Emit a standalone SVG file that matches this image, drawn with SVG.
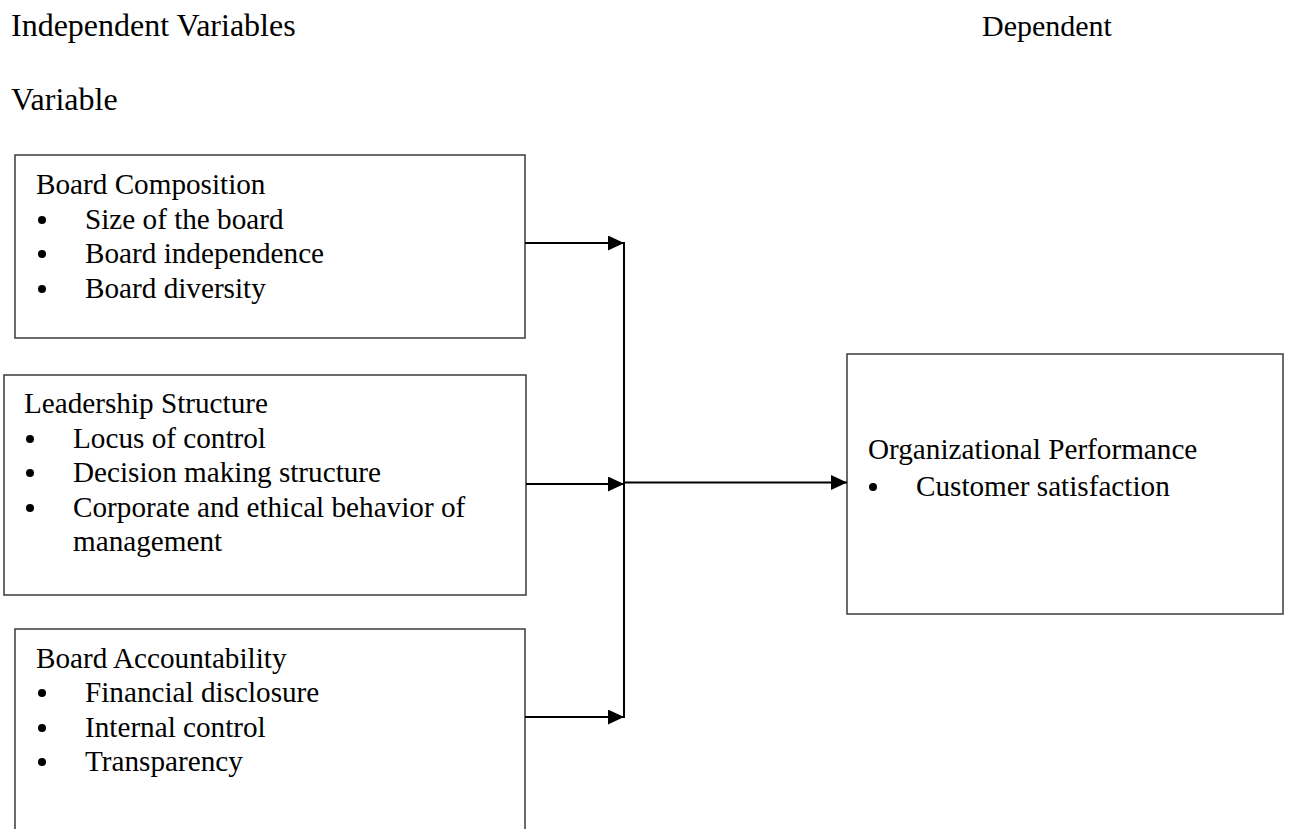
<svg xmlns="http://www.w3.org/2000/svg" width="1289" height="829" viewBox="0 0 1289 829">
<style>
text{font-family:"Liberation Serif","Times New Roman",serif;fill:#000;}
.h{font-size:32px;}
.t{font-size:29.2px;}
.box{fill:#fff;stroke:#3a3a3a;stroke-width:1.5;}
.c{stroke:#000;stroke-width:2;fill:none;}
.dot{fill:#000;}
</style>
<defs>
<marker id="ah" viewBox="0 0 16 15" refX="16" refY="7.5" markerWidth="16" markerHeight="15" markerUnits="userSpaceOnUse" orient="auto">
<path d="M0,0 L16,7.5 L0,15 Z" fill="#000"/>
</marker>
</defs>
<rect width="1289" height="829" fill="#fff"/>
<g id="headers">
<text class="h" x="11" y="36">Independent Variables</text>
<text x="982" y="36" style="font-size:30px">Dependent</text>
<text class="h" x="11" y="110">Variable</text>
</g>
<g id="board-composition">
<rect class="box" x="15" y="155" width="510" height="183"/>
<text class="t" x="36" y="194">Board Composition</text>
<circle class="dot" cx="42" cy="220" r="4"/>
<text class="t" x="85" y="229">Size of the board</text>
<circle class="dot" cx="42" cy="254" r="4"/>
<text class="t" x="85" y="263">Board independence</text>
<circle class="dot" cx="42" cy="289" r="4"/>
<text class="t" x="85" y="298">Board diversity</text>
</g>
<g id="leadership-structure">
<rect class="box" x="4" y="375" width="522" height="220"/>
<text class="t" x="24" y="413">Leadership Structure</text>
<circle class="dot" cx="30" cy="439" r="4"/>
<text class="t" x="73" y="448">Locus of control</text>
<circle class="dot" cx="30" cy="473" r="4"/>
<text class="t" x="73" y="482">Decision making structure</text>
<circle class="dot" cx="30" cy="508" r="4"/>
<text class="t" x="73" y="517">Corporate and ethical behavior of</text>
<text class="t" x="73" y="551">management</text>
</g>
<g id="board-accountability">
<rect class="box" x="15" y="629" width="510" height="220"/>
<text class="t" x="36" y="668">Board Accountability</text>
<circle class="dot" cx="42" cy="693" r="4"/>
<text class="t" x="85" y="702">Financial disclosure</text>
<circle class="dot" cx="42" cy="728" r="4"/>
<text class="t" x="85" y="737">Internal control</text>
<circle class="dot" cx="42" cy="762" r="4"/>
<text class="t" x="85" y="771">Transparency</text>
</g>
<g id="organizational-performance">
<rect class="box" x="847" y="354" width="436" height="260"/>
<text class="t" x="868" y="459">Organizational Performance</text>
<circle class="dot" cx="873" cy="487" r="4"/>
<text class="t" x="916" y="496">Customer satisfaction</text>
</g>
<g id="connectors">
<line class="c" x1="525" y1="243" x2="624" y2="243" marker-end="url(#ah)"/>
<line class="c" x1="526" y1="484" x2="624" y2="484" marker-end="url(#ah)"/>
<line class="c" x1="525" y1="717" x2="624" y2="717" marker-end="url(#ah)"/>
<line class="c" x1="624" y1="242" x2="624" y2="718"/>
<line class="c" x1="624" y1="482.5" x2="847" y2="482.5" marker-end="url(#ah)"/>
</g>
</svg>
